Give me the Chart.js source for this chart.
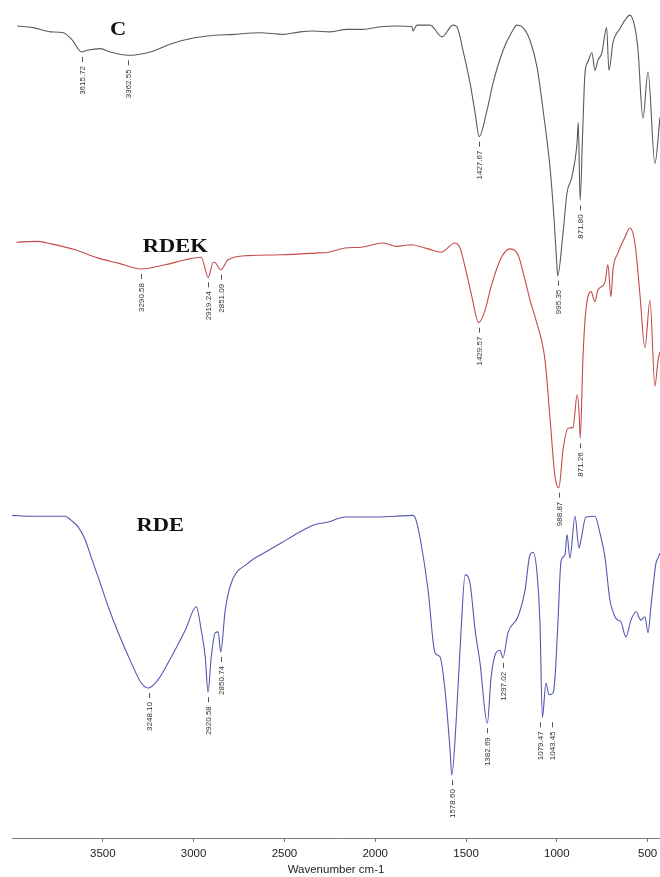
<!DOCTYPE html>
<html>
<head>
<meta charset="utf-8">
<script src="https://cdn.jsdelivr.net/npm/chart.js@4.4.1/dist/chart.umd.min.js"></script>
<style>
  html, body { margin: 0; padding: 0; background: #fff; }
  canvas { display: block; }
</style>
</head>
<body>
<canvas id="ftir" width="660" height="877"></canvas>
<script>
// tick labels of the wavenumber axis
const wavenumberTicks = [3500, 3000, 2500, 2000, 1500, 1000, 500];

// C spectrum (stacked, arbitrary units)
const cWavenumber = [3971, 3883, 3789, 3718, 3668, 3615.72, 3586, 3514, 3459, 3362.55, 3239, 3145, 3057, 2925, 2782, 2634, 2507, 2414, 2342, 2248, 2155, 2067, 1973, 1880, 1797, 1792, 1770, 1698, 1632, 1572, 1550, 1517, 1478, 1450, 1427.67, 1384, 1351, 1296, 1247, 1219, 1186, 1148, 1109, 1076, 1038, 1016, 999, 995.35, 966, 944, 917, 889, 882, 871.80, 858, 845, 829, 807, 790, 774, 752, 726, 713, 691, 652, 625, 598, 570, 553, 526, 498, 460, 432];
const cValue = [96.9, 96.7, 96.2, 96.1, 95.2, 93.8, 94.0, 94.2, 93.8, 93.4, 93.8, 94.6, 95.2, 95.7, 95.9, 96.1, 95.9, 96.2, 96.3, 96.2, 96.5, 96.5, 96.8, 96.9, 96.8, 96.3, 97.0, 97.0, 95.6, 97.0, 96.8, 94.0, 90.1, 86.5, 83.7, 86.9, 90.1, 94.0, 96.2, 97.0, 96.7, 95.2, 92.0, 86.9, 80.1, 74.1, 68.1, 67.1, 72.2, 77.0, 78.9, 82.9, 85.4, 76.1, 84.1, 91.3, 92.6, 93.7, 91.6, 92.8, 93.7, 96.7, 91.6, 94.9, 96.6, 97.6, 98.2, 96.7, 94.0, 85.9, 91.4, 80.5, 86.0];

// RDEK spectrum
const rdekWavenumber = [3976, 3855, 3784, 3652, 3525, 3415, 3290.58, 3156, 3046, 2958, 2919.24, 2892, 2878, 2851.09, 2810, 2700, 2518, 2331, 2259, 2166, 2078, 1957, 1880, 1803, 1709, 1638, 1561, 1533, 1505, 1472, 1429.57, 1395, 1362, 1307, 1258, 1214, 1175, 1148, 1115, 1065, 1038, 1010, 988.87, 966, 939, 911, 888, 876, 871.26, 856, 840, 812, 790, 774, 735, 719, 702, 691, 664, 625, 598, 570, 543, 515, 487, 460, 443, 432];
const rdekValue = [71.1, 71.2, 70.9, 70.2, 69.2, 68.6, 67.9, 68.4, 69.0, 69.3, 66.9, 68.7, 68.6, 67.8, 69.0, 69.5, 69.6, 69.8, 69.9, 70.4, 70.5, 71.0, 70.6, 70.8, 70.3, 69.9, 71.0, 70.4, 68.1, 65.0, 61.5, 63.0, 65.8, 69.2, 70.3, 69.6, 66.6, 64.2, 61.8, 57.0, 50.2, 43.1, 41.8, 46.3, 48.9, 49.0, 52.9, 50.2, 47.7, 57.4, 63.0, 65.2, 64.0, 65.4, 66.3, 68.4, 64.6, 67.8, 69.8, 71.7, 72.8, 71.0, 65.0, 58.5, 64.2, 53.9, 57.0, 58.0];

// RDE spectrum
const rdeWavenumber = [3999, 3894, 3707, 3674, 3635, 3597, 3564, 3525, 3470, 3415, 3343, 3288, 3248.10, 3195, 3123, 3046, 2985, 2958, 2936, 2920.58, 2903, 2881, 2865, 2850.74, 2826, 2793, 2700, 2606, 2518, 2425, 2331, 2259, 2166, 2078, 1984, 1891, 1792, 1775, 1748, 1709, 1671, 1643, 1616, 1588, 1578.60, 1555, 1528, 1505, 1478, 1450, 1423, 1382.69, 1362, 1335, 1313, 1297.02, 1269, 1214, 1175, 1148, 1131, 1109, 1093, 1079.47, 1060, 1043.45, 1021, 1010, 994, 977, 955, 944, 928, 900, 878, 867, 840, 790, 763, 735, 708, 680, 664, 647, 620, 592, 564, 537, 515, 498, 482, 454, 443, 432];
const rdeValue = [38.5, 38.4, 38.4, 37.9, 37.1, 35.6, 33.5, 31.1, 27.6, 24.5, 20.9, 18.5, 17.9, 18.9, 21.6, 24.8, 27.6, 24.8, 21.6, 17.4, 21.6, 24.5, 24.6, 22.2, 27.2, 30.4, 32.8, 34.1, 35.2, 36.4, 37.4, 37.7, 38.3, 38.3, 38.3, 38.4, 38.5, 37.9, 35.2, 29.6, 22.1, 21.6, 17.7, 10.5, 7.5, 13.7, 24.5, 31.4, 30.4, 24.8, 20.9, 13.7, 19.2, 22.1, 22.4, 21.5, 24.5, 26.4, 29.6, 33.8, 34.1, 31.6, 25.7, 14.4, 18.5, 17.1, 17.3, 19.2, 25.7, 33.0, 33.8, 36.2, 33.4, 38.4, 34.6, 35.6, 38.3, 38.4, 36.4, 33.5, 28.4, 26.4, 26.0, 25.8, 24.0, 26.0, 27.0, 26.0, 26.4, 24.5, 27.6, 32.8, 33.4, 34.0];

// labelled peaks (wavenumber)
const cPeaks = [3615.72, 3362.55, 1427.67, 995.35, 871.80];
const rdekPeaks = [3290.58, 2919.24, 2851.09, 1429.57, 988.87, 871.26];
const rdePeaks = [3248.10, 2920.58, 2850.74, 1578.60, 1382.69, 1297.02, 1079.47, 1043.45];

const seriesNames = ['C', 'RDEK', 'RDE'];

function toPoints(xs, ys) {
  return xs.map((x, i) => ({ x: x, y: ys[i] }));
}

// peak labels: short tick under the minimum, then the rotated value
const peakLabels = {
  id: 'peakLabels',
  afterDatasetsDraw(chart, args, opts) {
    const ctx = chart.ctx;
    const xs = chart.scales.x, ys = chart.scales.y;
    opts.peaks.forEach((list, di) => {
      const data = chart.data.datasets[di].data;
      let items = list.map(w => {
        let best = data[0];
        data.forEach(p => { if (Math.abs(p.x - w) < Math.abs(best.x - w)) best = p; });
        return { text: w.toFixed(2), px: xs.getPixelForValue(w), py: ys.getPixelForValue(best.y) };
      });
      items.sort((a, b) => a.px - b.px);
      // keep close labels apart
      for (let i = 1; i < items.length; i++) {
        const gap = items[i].px - items[i - 1].px;
        if (gap < 12) {
          const d = (12 - gap) / 2;
          items[i - 1].px -= d;
          items[i].px += d;
          const y = Math.max(items[i].py, items[i - 1].py);
          items[i].py = items[i - 1].py = y;
        }
      }
      ctx.save();
      ctx.strokeStyle = '#555';
      ctx.fillStyle = '#333';
      ctx.lineWidth = 1;
      ctx.font = '8px "Liberation Sans", Arial, sans-serif';
      items.forEach(it => {
        const x = Math.round(it.px) + 0.5;
        ctx.beginPath();
        ctx.moveTo(x, it.py + 5);
        ctx.lineTo(x, it.py + 10);
        ctx.stroke();
        ctx.save();
        ctx.translate(x, it.py + 14);
        ctx.rotate(-Math.PI / 2);
        ctx.textAlign = 'right';
        ctx.textBaseline = 'middle';
        ctx.fillText(it.text, 0, 0);
        ctx.restore();
      });
      ctx.restore();
    });
  }
};

// sample names
const seriesTitles = {
  id: 'seriesTitles',
  afterDatasetsDraw(chart, args, opts) {
    const ctx = chart.ctx;
    const xs = chart.scales.x, ys = chart.scales.y;
    ctx.save();
    ctx.fillStyle = '#111';
    ctx.font = 'bold 18px "Liberation Serif", "Times New Roman", serif';
    ctx.textAlign = 'center';
    ctx.textBaseline = 'middle';
    opts.items.forEach(it => {
      const x = xs.getPixelForValue(it.x), y = ys.getPixelForValue(it.y);
      ctx.save();
      ctx.translate(x, y);
      ctx.scale(1.25, 1);
      ctx.fillText(it.text, 0, 0);
      ctx.restore();
    });
    ctx.restore();
  }
};

const lineStyle = { borderWidth: 1.1, pointRadius: 0, fill: false, cubicInterpolationMode: 'monotone' };

new Chart(document.getElementById('ftir').getContext('2d'), {
  type: 'line',
  data: {
    datasets: [
      Object.assign({ label: seriesNames[0], data: toPoints(cWavenumber, cValue), borderColor: '#5a5a5a' }, lineStyle),
      Object.assign({ label: seriesNames[1], data: toPoints(rdekWavenumber, rdekValue), borderColor: '#c44a4a' }, lineStyle),
      Object.assign({ label: seriesNames[2], data: toPoints(rdeWavenumber, rdeValue), borderColor: '#5656b4' }, lineStyle)
    ]
  },
  options: {
    responsive: false,
    animation: false,
    layout: { padding: { left: 12, right: 0, top: 0, bottom: 0 } },
    plugins: {
      legend: { display: false },
      tooltip: { enabled: false },
      peakLabels: { peaks: [cPeaks, rdekPeaks, rdePeaks] },
      seriesTitles: {
        items: [
          { text: seriesNames[0], x: 3415, y: 96.4 },
          { text: seriesNames[1], x: 3101, y: 70.5 },
          { text: seriesNames[2], x: 3184, y: 37.2 }
        ]
      }
    },
    scales: {
      x: {
        type: 'linear',
        reverse: true,
        min: 432,
        max: 4000,
        afterBuildTicks: axis => { axis.ticks = wavenumberTicks.map(v => ({ value: v })); },
        afterFit: axis => { axis.height = 39; axis.paddingLeft = 0; axis.paddingRight = 0; },
        grid: { drawOnChartArea: false, drawTicks: true, tickLength: 4, color: '#777' },
        border: { display: true, color: '#777', width: 1 },
        ticks: {
          color: '#222', padding: 5, maxRotation: 0,
          font: { family: '"Liberation Sans", Arial, sans-serif', size: 11.5 },
          callback: v => String(v)
        },
        title: {
          display: true,
          text: 'Wavenumber cm-1',
          color: '#222',
          padding: { top: 0, bottom: 0 },
          font: { family: '"Liberation Sans", Arial, sans-serif', size: 11.5 }
        }
      },
      y: { display: false, min: 0, max: 100 }
    }
  },
  plugins: [peakLabels, seriesTitles]
});
</script>
</body>
</html>
